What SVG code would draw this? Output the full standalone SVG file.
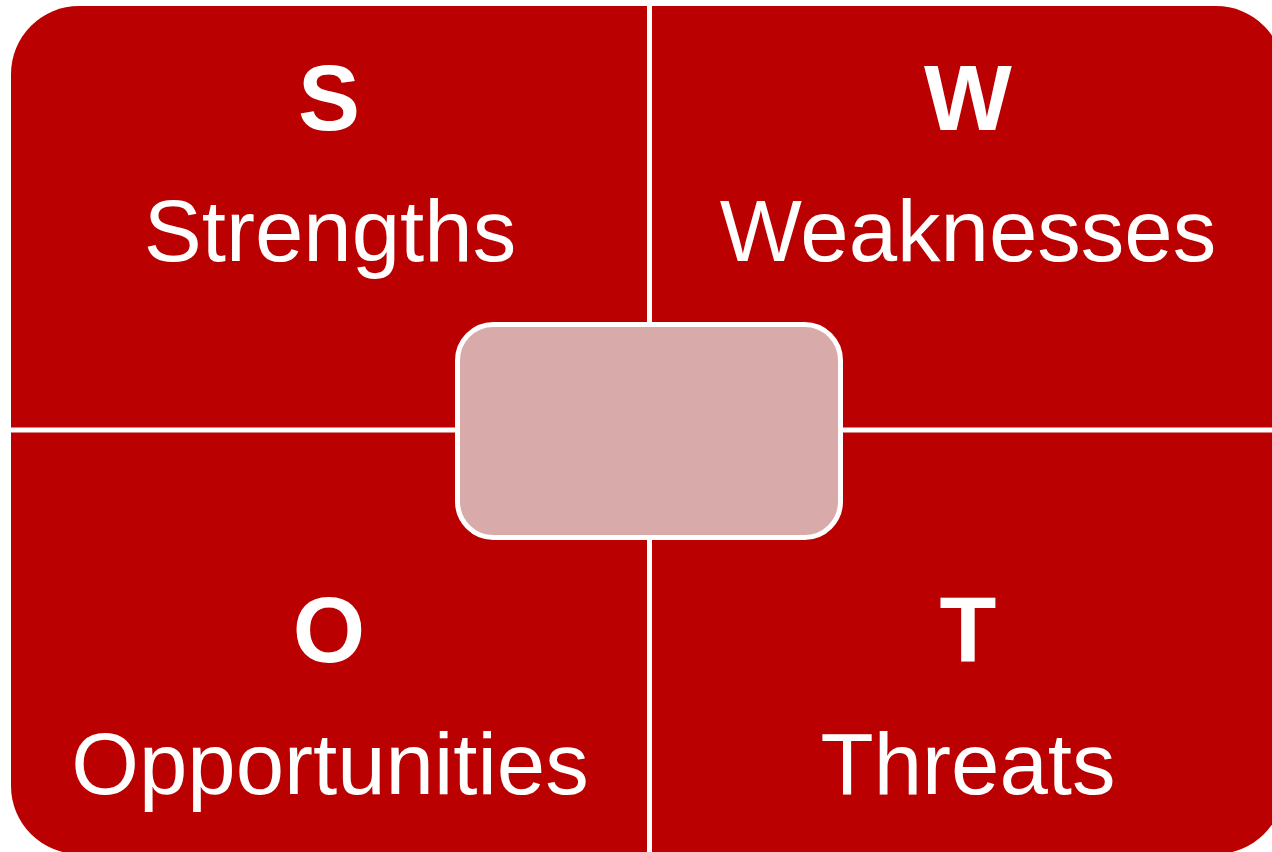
<svg xmlns="http://www.w3.org/2000/svg" width="1272" height="852" viewBox="0 0 1272 852">
  <style>
    .quad { fill: #BA0000; }
    .hub { fill: #D9AAAA; stroke: #FFFFFF; stroke-width: 5; }
    .letter { font-family: "Liberation Sans", Arial, sans-serif; font-weight: bold; font-size: 93px; fill: #FFFFFF; text-anchor: middle; }
    .word { font-family: "Liberation Sans", Arial, sans-serif; font-size: 87px; fill: #FFFFFF; text-anchor: middle; }
  </style>
  <rect width="1272" height="852" fill="#FFFFFF"/>

  <!-- Strengths (top left) -->
  <g id="strengths">
    <path class="quad" d="M11,427.5 V74 A68,68 0 0 1 79,6 H647 V427.5 Z"/>
    <text class="letter" x="329" y="130">S</text>
    <text class="word" x="330" y="261">Strengths</text>
  </g>

  <!-- Weaknesses (top right) -->
  <g id="weaknesses">
    <path class="quad" d="M652,6 H1216 A68,68 0 0 1 1284,74 V427.5 H652 Z"/>
    <text class="letter" x="968" y="130">W</text>
    <text class="word" x="968" y="261">Weaknesses</text>
  </g>

  <!-- Opportunities (bottom left) -->
  <g id="opportunities">
    <path class="quad" d="M11,432.5 H647 V854 H79 A68,68 0 0 1 11,786 Z"/>
    <text class="letter" x="329" y="662">O</text>
    <text class="word" x="330" y="794">Opportunities</text>
  </g>

  <!-- Threats (bottom right) -->
  <g id="threats">
    <path class="quad" d="M652,432.5 H1284 V786 A68,68 0 0 1 1216,854 H652 Z"/>
    <text class="letter" x="968" y="662">T</text>
    <text class="word" x="968" y="794">Threats</text>
  </g>

  <!-- central hub -->
  <g id="center">
    <rect class="hub" x="457.5" y="324.5" width="383" height="213" rx="36" ry="36"/>
  </g>

  <g id="connectors"></g>
</svg>
